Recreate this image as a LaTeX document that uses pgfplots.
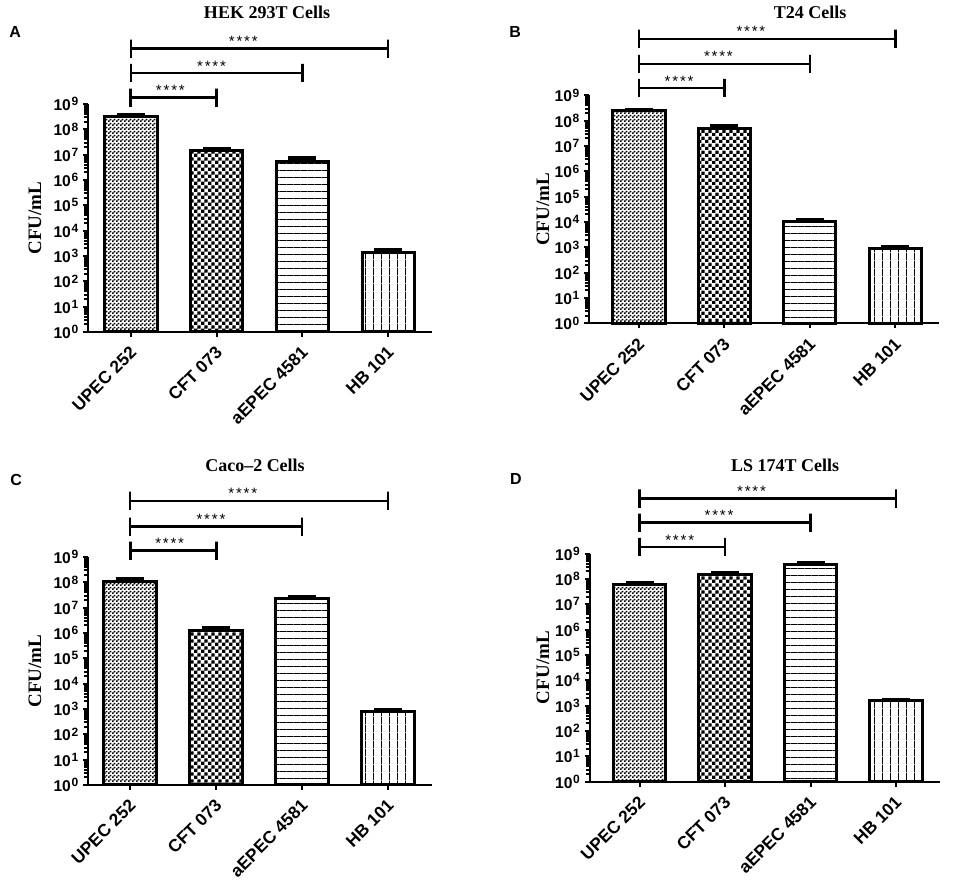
\documentclass[border=0pt]{standalone}
\usepackage{fontspec}
\setmainfont{Liberation Serif}
\newfontfamily\arial{Liberation Sans}
\usepackage{pgfplots}
\pgfplotsset{compat=1.18}
\usetikzlibrary{patterns}

\pgfdeclarepatternformonly{finecheck}{\pgfpointorigin}{\pgfqpoint{2pt}{2pt}}{\pgfqpoint{2pt}{2pt}}{%
 \pgfpathrectangle{\pgfpointorigin}{\pgfqpoint{1pt}{1pt}}%
 \pgfpathrectangle{\pgfqpoint{1pt}{1pt}}{\pgfqpoint{1pt}{1pt}}%
 \pgfusepath{fill}}
\pgfdeclarepatternformonly{coarsecheck}{\pgfpointorigin}{\pgfqpoint{3.6pt}{3.6pt}}{\pgfqpoint{3.6pt}{3.6pt}}{%
 \pgfpathrectangle{\pgfpointorigin}{\pgfqpoint{1.8pt}{1.8pt}}%
 \pgfpathrectangle{\pgfqpoint{1.8pt}{1.8pt}}{\pgfqpoint{1.8pt}{1.8pt}}%
 \pgfusepath{fill}}
\pgfdeclarepatternformonly{hlin}{\pgfpointorigin}{\pgfqpoint{3.6pt}{3.6pt}}{\pgfqpoint{3.6pt}{3.6pt}}{%
 \pgfpathrectangle{\pgfpointorigin}{\pgfqpoint{3.6pt}{0.5pt}}%
 \pgfusepath{fill}}
\pgfdeclarepatternformonly{vlin}{\pgfpointorigin}{\pgfqpoint{3.8pt}{3.8pt}}{\pgfqpoint{3.8pt}{3.8pt}}{%
 \pgfpathrectangle{\pgfpointorigin}{\pgfqpoint{0.5pt}{3.8pt}}%
 \pgfusepath{fill}}

\newcommand\stars{{\arial\fontsize{7.5}{7.5}\selectfont *\kern0.9pt*\kern0.9pt*\kern0.9pt*}}
\newcommand\tp[1]{10\kern0.3pt\raisebox{2.4pt}{\fontsize{6}{6}\selectfont #1}}

\pgfplotsset{
 myaxis/.style={
  scale only axis, height=114pt,
  anchor=south west,
  ymin=1, ymax=1e9,
  xmax=3.51,
  axis lines*=left,
  axis line style={line width=1pt},
  clip=false,
  xtick={0,1,2,3},
  xticklabels={UPEC 252, CFT 073, aEPEC 4581, HB 101},
  xticklabel style={xshift=-1pt, yshift=-2.5pt, rotate=45, anchor=north east, font=\arial\bfseries\fontsize{8.7}{9}\selectfont, inner sep=1pt},
  ytick={1,10,100,1000,1e4,1e5,1e6,1e7,1e8,1e9},
  yticklabels={\tp{0},\tp{1},\tp{2},\tp{3},\tp{4},\tp{5},\tp{6},\tp{7},\tp{8},\tp{9}},
  minor ytick={2,3,4,5,6,7,8,9,20,30,40,50,60,70,80,90,200,300,400,500,600,700,800,900,2e3,3e3,4e3,5e3,6e3,7e3,8e3,9e3,2e4,3e4,4e4,5e4,6e4,7e4,8e4,9e4,2e5,3e5,4e5,5e5,6e5,7e5,8e5,9e5,2e6,3e6,4e6,5e6,6e6,7e6,8e6,9e6,2e7,3e7,4e7,5e7,6e7,7e7,8e7,9e7,2e8,3e8,4e8,5e8,6e8,7e8,8e8,9e8},
  yticklabel style={font=\arial\bfseries\fontsize{7.8}{8}\selectfont, inner sep=2.2pt},
  tick align=outside,
  major tick length=2.5pt, minor tick length=1.8pt,
  tick style={black, line width=1pt},
 },
 mybar/.style={ybar, bar width=0.61, bar shift=0pt, draw=black, line width=1.5pt,
  error bars/y dir=plus, error bars/y explicit,
  error bars/error mark options={rotate=90, black, mark size=7pt, line width=2pt},
  error bars/error bar style={black, line width=1.5pt}},
 mybrk/.style={black, line width=1.2pt, mark=none, sharp plot},
}

\begin{document}
\begin{tikzpicture}
\path[use as bounding box] (0,0) rectangle (478.5pt,443pt);

% ---------------- A
\begin{semilogyaxis}[myaxis, width=172pt, xmin=-0.5, at={(44pt,277pt)}]
\addplot[pattern=finecheck, mybar] coordinates {(0,3.2e8) +- (0,0.6e8)};
\addplot[pattern=coarsecheck, mybar] coordinates {(1,1.45e7) +- (0,0.25e7)};
\addplot[pattern=hlin, mybar] coordinates {(2,5.5e6) +- (0,1.9e6)};
\addplot[pattern=vlin, mybar] coordinates {(3,1350) +- (0,310)};
\addplot[mybrk, line width=1.4pt] coordinates {(0,7.6e8) (0,4e9) (0,1.74e9) (1,1.74e9) (1,4e9) (1,7.6e8)};
\addplot[mybrk, line width=1.3pt] coordinates {(0,7.2e9) (0,3.8e10) (0,1.66e10) (2,1.66e10) (2,3.8e10) (2,7.2e9)};
\addplot[mybrk, line width=1.1pt] coordinates {(0,6.8e10) (0,3.5e11) (0,1.55e11) (3,1.55e11) (3,3.5e11) (3,6.8e10)};
\node[anchor=base, yshift=1pt] at (axis cs:0.46,1.74e9) {\stars};
\node[anchor=base, yshift=1pt] at (axis cs:0.94,1.66e10) {\stars};
\node[anchor=base, yshift=1pt] at (axis cs:1.31,1.55e11) {\stars};
\end{semilogyaxis}

% ---------------- B
\begin{semilogyaxis}[myaxis, width=175pt, xmin=-0.584, at={(294.5pt,281.3pt)}]
\addplot[pattern=finecheck, mybar] coordinates {(0,2.45e8) +- (0,0.25e8)};
\addplot[pattern=coarsecheck, mybar] coordinates {(1,4.9e7) +- (0,1.1e7)};
\addplot[pattern=hlin, mybar] coordinates {(2,1.1e4) +- (0,1000)};
\addplot[pattern=vlin, mybar] coordinates {(3,910) +- (0,110)};
\addplot[mybrk, line width=1.4pt] coordinates {(0,8.5e8) (0,4.5e9) (0,1.95e9) (1,1.95e9) (1,4.5e9) (1,8.5e8)};
\addplot[mybrk, line width=1.3pt] coordinates {(0,7.6e9) (0,4e10) (0,1.74e10) (2,1.74e10) (2,4e10) (2,7.6e9)};
\addplot[mybrk, line width=1.2pt] coordinates {(0,7.4e10) (0,3.9e11) (0,1.7e11) (3,1.7e11) (3,3.9e11) (3,7.4e10)};
\node[anchor=base, yshift=1pt] at (axis cs:0.47,1.95e9) {\stars};
\node[anchor=base, yshift=1pt] at (axis cs:0.93,1.74e10) {\stars};
\node[anchor=base, yshift=1pt] at (axis cs:1.31,1.7e11) {\stars};
\end{semilogyaxis}

% ---------------- C
\begin{semilogyaxis}[myaxis, width=172pt, xmin=-0.49, at={(44pt,50.5pt)}]
\addplot[pattern=finecheck, mybar] coordinates {(0,1.12e8) +- (0,0.2e8)};
\addplot[pattern=coarsecheck, mybar] coordinates {(1,1.29e6) +- (0,2.2e5)};
\addplot[pattern=hlin, mybar] coordinates {(2,2.24e7) +- (0,3.9e6)};
\addplot[pattern=vlin, mybar] coordinates {(3,794) +- (0,160)};
\addplot[mybrk, line width=1.4pt] coordinates {(0,7.6e8) (0,4e9) (0,1.74e9) (1,1.74e9) (1,4e9) (1,7.6e8)};
\addplot[mybrk, line width=1.3pt] coordinates {(0,6.9e9) (0,3.6e10) (0,1.58e10) (2,1.58e10) (2,3.6e10) (2,6.9e9)};
\addplot[mybrk, line width=0.9pt] coordinates {(0,7.2e10) (0,3.8e11) (0,1.66e11) (3,1.66e11) (3,3.8e11) (3,7.2e10)};
\node[anchor=base, yshift=1pt] at (axis cs:0.46,1.74e9) {\stars};
\node[anchor=base, yshift=1pt] at (axis cs:0.94,1.58e10) {\stars};
\node[anchor=base, yshift=1pt] at (axis cs:1.31,1.66e11) {\stars};
\end{semilogyaxis}

% ---------------- D
\begin{semilogyaxis}[myaxis, width=175pt, xmin=-0.584, at={(294.8pt,52.2pt)}]
\addplot[pattern=finecheck, mybar] coordinates {(0,6.0e7) +- (0,1.1e7)};
\addplot[pattern=coarsecheck, mybar] coordinates {(1,1.55e8) +- (0,2.3e7)};
\addplot[pattern=hlin, mybar] coordinates {(2,3.8e8) +- (0,0.27e8)};
\addplot[pattern=vlin, mybar] coordinates {(3,1550) +- (0,190)};
\addplot[mybrk, line width=1.4pt] coordinates {(0,7.9e8) (0,4.2e9) (0,1.82e9) (1,1.82e9) (1,4.2e9) (1,7.9e8)};
\addplot[mybrk, line width=1.4pt] coordinates {(0,7.2e9) (0,3.8e10) (0,1.66e10) (2,1.66e10) (2,3.8e10) (2,7.2e9)};
\addplot[mybrk, line width=1.4pt] coordinates {(0,6.4e10) (0,3.4e11) (0,1.48e11) (3,1.48e11) (3,3.4e11) (3,6.4e10)};
\node[anchor=base, yshift=1pt] at (axis cs:0.47,1.82e9) {\stars};
\node[anchor=base, yshift=1pt] at (axis cs:0.93,1.66e10) {\stars};
\node[anchor=base, yshift=1pt] at (axis cs:1.31,1.48e11) {\stars};
\end{semilogyaxis}

% titles, panel letters, y labels
\begin{scope}[every node/.style={font=\bfseries\fontsize{9}{10}\selectfont}]
\node at (133.5pt,436.7pt) {HEK 293T Cells};
\node at (405pt,436.7pt) {T24 Cells};
\node at (127.5pt,210.5pt) {Caco--2 Cells};
\node at (392.5pt,210.5pt) {LS 174T Cells};
\end{scope}
\begin{scope}[every node/.style={font=\bfseries\fontsize{9.5}{10}\selectfont, rotate=90}]
\node at (17.5pt,334pt) {CFU/mL};
\node at (271.5pt,338.2pt) {CFU/mL};
\node at (17.5pt,107.5pt) {CFU/mL};
\node at (271.5pt,109.2pt) {CFU/mL};
\end{scope}
\begin{scope}[every node/.style={font=\arial\bfseries\fontsize{8}{9}\selectfont, anchor=west, inner sep=0pt}]
\node at (4.5pt,427pt) {A};
\node at (254.5pt,427pt) {B};
\node at (5pt,203pt) {C};
\node at (254.8pt,203.3pt) {D};
\end{scope}
\end{tikzpicture}
\end{document}
